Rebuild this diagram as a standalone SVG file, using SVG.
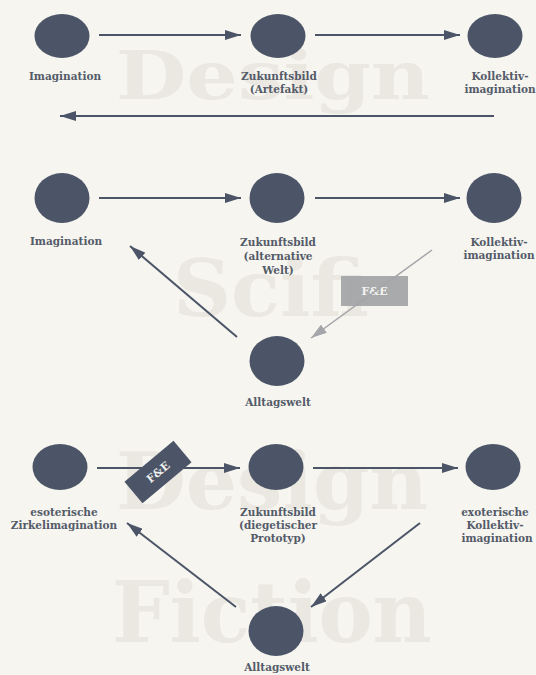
<svg xmlns="http://www.w3.org/2000/svg" width="536" height="675" viewBox="0 0 536 675">
<defs>
<style>
.bg{fill:#f6f5f0}
.wm{font-family:"DejaVu Serif","Liberation Serif",serif;font-weight:bold;fill:#ebe7e1}
.node{fill:#4b5567}
.lbl{font-family:"DejaVu Serif","Liberation Serif",serif;font-weight:bold;font-size:10.5px;fill:#545b68;text-anchor:middle}
.ln{stroke:#4b5567;stroke-width:2;fill:none}
.lg{stroke:#a3a5a8;stroke-width:1.5;fill:none}
.tag{font-family:"DejaVu Serif","Liberation Serif",serif;font-weight:bold;font-size:11px;fill:#f2f2ef;text-anchor:middle}
</style>
<marker id="ah" viewBox="0 0 16 10" refX="16" refY="5" markerWidth="16" markerHeight="10" markerUnits="userSpaceOnUse" orient="auto">
<path d="M0,0 L16,5 L0,10 Z" fill="#4b5567"/>
</marker>
<marker id="ahg" viewBox="0 0 16 10" refX="16" refY="5" markerWidth="16" markerHeight="10" markerUnits="userSpaceOnUse" orient="auto">
<path d="M0,0 L16,5 L0,10 Z" fill="#a3a5a8"/>
</marker>
</defs>
<rect class="bg" x="0" y="0" width="536" height="675"/>
<g id="watermarks">
<text class="wm" x="116" y="99" font-size="68" textLength="314" lengthAdjust="spacingAndGlyphs">Design</text>
<text class="wm" x="173" y="316" font-size="78" textLength="196" lengthAdjust="spacingAndGlyphs">Scifi</text>
<text class="wm" x="116" y="509" font-size="78" textLength="312" lengthAdjust="spacingAndGlyphs">Design</text>
<text class="wm" x="112" y="642" font-size="84" textLength="320" lengthAdjust="spacingAndGlyphs">Fiction</text>
</g>
<g id="connectors">
<line class="ln" x1="99" y1="35" x2="241" y2="35" marker-end="url(#ah)"/>
<line class="ln" x1="315" y1="35" x2="460" y2="35" marker-end="url(#ah)"/>
<line class="ln" x1="494" y1="116" x2="60" y2="116" marker-end="url(#ah)"/>
<line class="ln" x1="99" y1="198" x2="241" y2="198" marker-end="url(#ah)"/>
<line class="ln" x1="315" y1="198" x2="460" y2="198" marker-end="url(#ah)"/>
<line class="ln" x1="237" y1="337" x2="130" y2="246" marker-end="url(#ah)"/>
<line class="ln" x1="97" y1="468" x2="240" y2="468" marker-end="url(#ah)"/>
<line class="ln" x1="313" y1="468" x2="458" y2="468" marker-end="url(#ah)"/>
<line class="ln" x1="420" y1="523" x2="311" y2="607" marker-end="url(#ah)"/>
<line class="ln" x1="236" y1="607" x2="127" y2="523" marker-end="url(#ah)"/>
</g>
<g id="tag-fe-1">
<rect x="341" y="276" width="67" height="30" fill="#a3a5a8" opacity="0.95"/>
<text class="tag" x="374.5" y="295">F&amp;E</text>
<line class="lg" x1="432" y1="250" x2="311" y2="338" marker-end="url(#ahg)"/>
</g>
<g id="tag-fe-2" transform="translate(158,472) rotate(-40)">
<rect x="-32" y="-14" width="64" height="28" fill="#4b5567"/>
<text class="tag" x="0" y="4">F&amp;E</text>
</g>
<g id="n1-imagination">
<ellipse class="node" cx="62" cy="36" rx="27.5" ry="22"/>
<text class="lbl" x="65" y="80">Imagination</text>
</g>
<g id="n1-zukunftsbild">
<ellipse class="node" cx="278" cy="36" rx="27.5" ry="22"/>
<text class="lbl" x="279" y="80">Zukunftsbild</text>
<text class="lbl" x="279" y="93">(Artefakt)</text>
</g>
<g id="n1-kollektiv">
<ellipse class="node" cx="495" cy="36" rx="27.5" ry="22"/>
<text class="lbl" x="500" y="80">Kollektiv-</text>
<text class="lbl" x="500" y="93">imagination</text>
</g>
<g id="n2-imagination">
<ellipse class="node" cx="62" cy="198" rx="27.5" ry="25"/>
<text class="lbl" x="66" y="245">Imagination</text>
</g>
<g id="n2-zukunftsbild">
<ellipse class="node" cx="277" cy="198" rx="27.5" ry="25"/>
<text class="lbl" x="278" y="246">Zukunftsbild</text>
<text class="lbl" x="278" y="260">(alternative</text>
<text class="lbl" x="278" y="274">Welt)</text>
</g>
<g id="n2-kollektiv">
<ellipse class="node" cx="494" cy="198" rx="27.5" ry="25"/>
<text class="lbl" x="499" y="246">Kollektiv-</text>
<text class="lbl" x="499" y="259">imagination</text>
</g>
<g id="n2-alltagswelt">
<ellipse class="node" cx="277" cy="361" rx="27.5" ry="25"/>
<text class="lbl" x="278" y="406">Alltagswelt</text>
</g>
<g id="n3-esoterisch">
<ellipse class="node" cx="60" cy="467" rx="27.5" ry="23"/>
<text class="lbl" x="64" y="516">esoterische</text>
<text class="lbl" x="64" y="529">Zirkelimagination</text>
</g>
<g id="n3-zukunftsbild">
<ellipse class="node" cx="276" cy="467" rx="27.5" ry="23"/>
<text class="lbl" x="278" y="516">Zukunftsbild</text>
<text class="lbl" x="278" y="529">(diegetischer</text>
<text class="lbl" x="278" y="542">Prototyp)</text>
</g>
<g id="n3-exoterisch">
<ellipse class="node" cx="493" cy="467" rx="27.5" ry="23"/>
<text class="lbl" x="495" y="516">exoterische</text>
<text class="lbl" x="495" y="529">Kollektiv-</text>
<text class="lbl" x="497" y="542">imagination</text>
</g>
<g id="n3-alltagswelt">
<ellipse class="node" cx="276" cy="631" rx="27.5" ry="25"/>
<text class="lbl" x="277" y="671">Alltagswelt</text>
</g>
</svg>
